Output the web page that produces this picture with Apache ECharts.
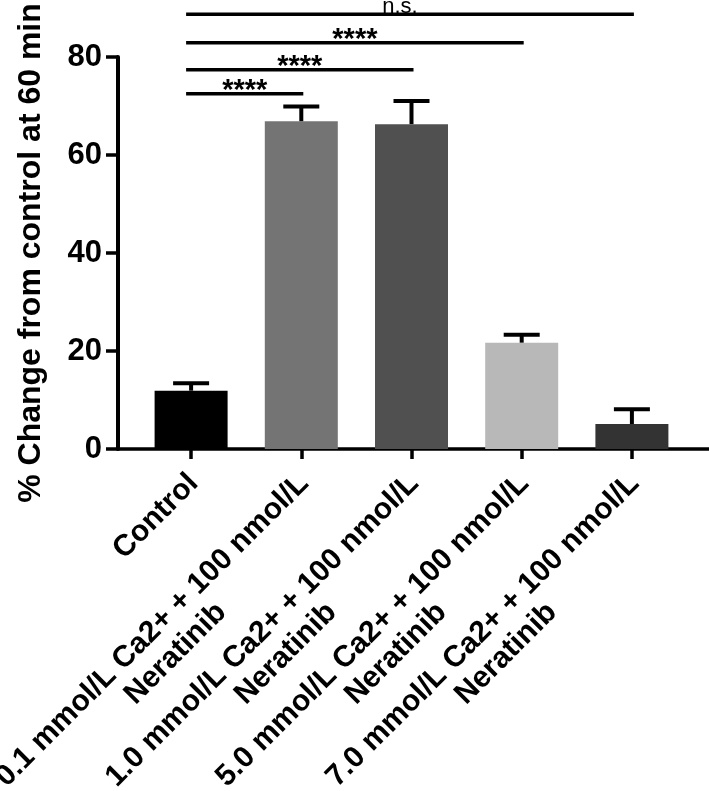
<!DOCTYPE html>
<html><head><meta charset="utf-8">
<script src="https://cdn.jsdelivr.net/npm/echarts@6/dist/echarts.min.js"></script>
<style>html,body{margin:0;padding:0;background:#fff}#c{width:709px;height:791px}</style>
</head><body><div id="c"></div>
<script>
const categories = [
  'Control',
  '0.1 mmol/L Ca2+ + 100 nmol/L\nNeratinib',
  '1.0 mmol/L Ca2+ + 100 nmol/L\nNeratinib',
  '5.0 mmol/L Ca2+ + 100 nmol/L\nNeratinib',
  '7.0 mmol/L Ca2+ + 100 nmol/L\nNeratinib'
];
const means = [11.9, 66.9, 66.3, 21.7, 5.1];
const sem = [1.5, 3.0, 4.7, 1.6, 3.0];
const barColors = ['#000000', '#747474', '#505050', '#b8b8b8', '#333333'];
const yMin = 0, yMax = 80, yStep = 20;
const yTitle = '% Change from control at 60 min';
const sigFrom = [0, 0, 0, 0];
const sigTo = [1, 2, 3, 4];
const sigLevel = [72.5, 77.4, 82.9, 88.7];
const sigText = ['****', '****', '****', 'n.s.'];

const FONT = '"Liberation Sans", Arial, Helvetica, sans-serif';
const chart = echarts.init(document.getElementById('c'), null, {renderer: 'canvas'});

const option = {
  animation: false,
  backgroundColor: '#fff',
  grid: [
    {left: 118, right: 0, top: 57, bottom: 342, containLabel: false, outerBoundsMode: 'none'},
    {left: 136, right: 22, top: 57, bottom: 342, containLabel: false, outerBoundsMode: 'none'}
  ],
  xAxis: [
    {gridIndex: 0, type: 'value', min: 0, max: 1,
     axisLine: {show: true, lineStyle: {color: '#000', width: 3.5}},
     axisTick: {show: false}, axisLabel: {show: false}, splitLine: {show: false}},
    {gridIndex: 1, type: 'category', data: categories,
     axisLine: {show: false},
     axisTick: {show: true, alignWithLabel: true, length: 10, lineStyle: {color: '#000', width: 3.5}},
     axisLabel: {
       interval: 0, rotate: 45, margin: 9, verticalAlign: 'top', padding: [0, 13, 0, 0],
       formatter: function (v) {
         const parts = v.split('\n');
         if (parts.length === 1) parts.push(' ');
         return parts.map(s => '{a|' + s + '}').join('\n');
       },
       rich: {a: {align: 'center', fontSize: 30, fontWeight: 'bold', fontFamily: FONT, color: '#000', lineHeight: 33}}
     }}
  ],
  yAxis: [
    {gridIndex: 0, type: 'value', min: yMin, max: yMax, interval: yStep,
     name: yTitle, nameLocation: 'middle', nameGap: 71,
     nameTextStyle: {fontSize: 32, fontWeight: 'bold', fontFamily: FONT, color: '#000'},
     axisLine: {show: true, lineStyle: {color: '#000', width: 4}},
     axisTick: {show: true, length: 12, lineStyle: {color: '#000', width: 3.5}},
     axisLabel: {margin: 16, fontSize: 31, fontWeight: 'bold', fontFamily: FONT, color: '#000'},
     splitLine: {show: false}},
    {gridIndex: 1, type: 'value', min: yMin, max: yMax, show: false, splitLine: {show: false}}
  ],
  series: [
    {type: 'bar', xAxisIndex: 1, yAxisIndex: 1, barWidth: 73,
     data: means.map((m, i) => ({value: m, itemStyle: {color: barColors[i]}}))},
    {type: 'custom', xAxisIndex: 1, yAxisIndex: 1, z: 5,
     data: means.map((m, i) => [i, m, m + sem[i]]),
     renderItem: function (params, api) {
       const i = api.value(0);
       const a = api.coord([i, api.value(1)]);
       const b = api.coord([i, api.value(2)]);
       const st = {stroke: '#000', lineWidth: 4};
       return {type: 'group', children: [
         {type: 'line', shape: {x1: a[0], y1: a[1], x2: b[0], y2: b[1]}, style: st},
         {type: 'line', shape: {x1: b[0] - 18, y1: b[1], x2: b[0] + 18, y2: b[1]}, style: st}
       ]};
     }},
    {type: 'custom', xAxisIndex: 1, yAxisIndex: 1, z: 6, clip: false,
     data: sigFrom.map((f, i) => [f, sigTo[i], sigLevel[i], i]),
     renderItem: function (params, api) {
       const k = api.value(3);
       const p1 = api.coord([api.value(0), api.value(2)]);
       const p2 = api.coord([api.value(1), api.value(2)]);
       const x1 = p1[0] - 5, x2 = p2[0] + 2, y = p1[1];
       const txt = sigText[k];
       const isNs = txt === 'n.s.';
       return {type: 'group', children: [
         {type: 'line', shape: {x1: x1, y1: y, x2: x2, y2: y}, style: {stroke: '#000', lineWidth: 3.5}},
         {type: 'text', x: (x1 + x2) / 2 - (isNs ? 10 : 0), y: isNs ? y - 7.5 : y - 3,
          style: {text: txt, align: 'center', verticalAlign: 'middle', fill: '#000',
                  font: (isNs ? 'normal 22px ' : 'bold 29px ') + FONT}}
       ]};
     }}
  ]
};
chart.setOption(option);
</script>
</body></html>
